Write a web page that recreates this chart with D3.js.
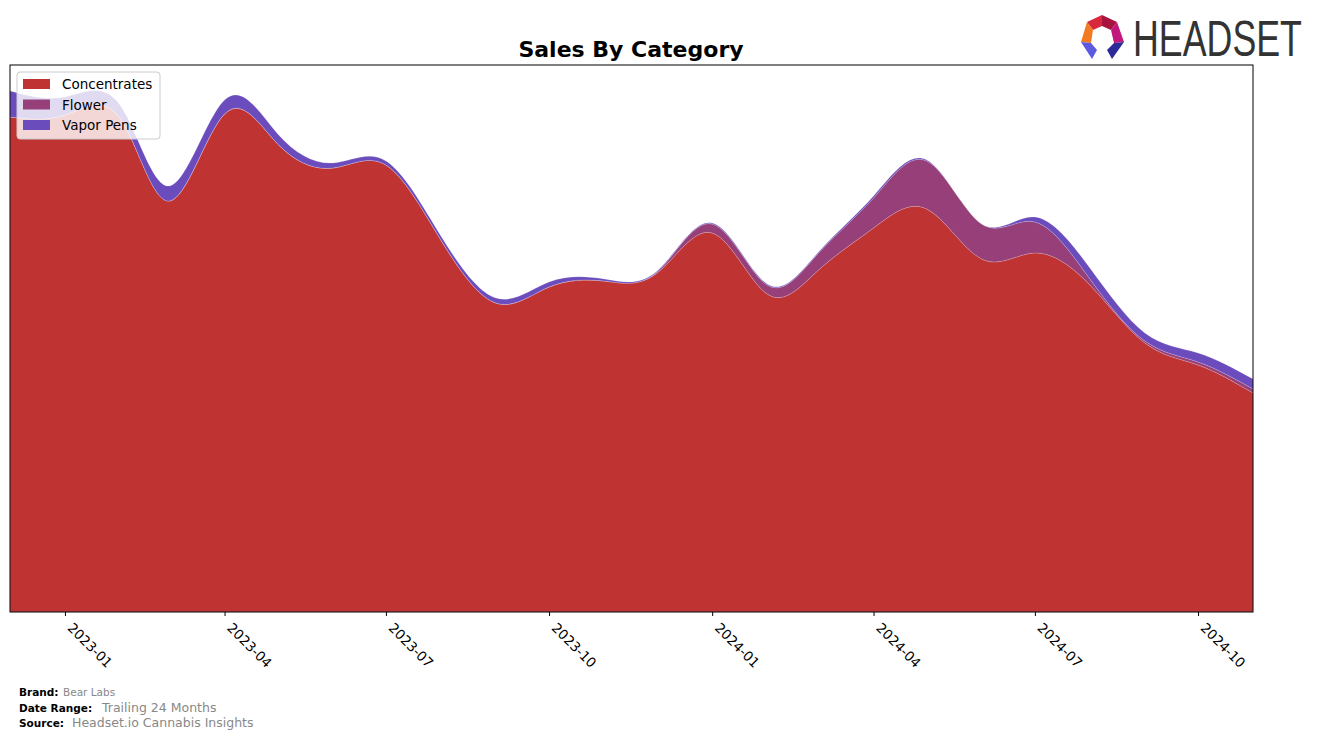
<!DOCTYPE html>
<html>
<head>
<meta charset="utf-8">
<script src="https://cdn.jsdelivr.net/npm/d3@7"></script>
<style>
  html, body { margin: 0; padding: 0; background: #fff; }
  svg { display: block; font-family: "DejaVu Sans", sans-serif; }
</style>
</head>
<body>
<svg id="chart" width="1317" height="739"></svg>
<script>
// ---- data (monthly, arbitrary sales units) ----
const months = ["2022-12","2023-01","2023-02","2023-03","2023-04","2023-05","2023-06","2023-07","2023-08","2023-09","2023-10","2023-11","2023-12","2024-01","2024-02","2024-03","2024-04","2024-05","2024-06","2024-07","2024-08","2024-09","2024-10","2024-11"];
const concentrates = [495,497,494,411,498,468,444,447,372,309,325,331,339,379,318,342,384,403,353,359,327,269,247,219];
const flower       = [0,0,0,0,0,0,0,0,0,0,0,0,1,9,9,17,30,48,35,31,6,2,3,4];
const vaporPens    = [26,18,13,15,14,10,5,4,4,5,5,2,1,1,1,1,2,1,0,5,11,8,9,10];
const seriesNames  = ["Concentrates","Flower","Vapor Pens"];
const seriesColors = ["#c03333","#963f78","#6a4cbd"];
const xTickLabels  = ["2023-01","2023-04","2023-07","2023-10","2024-01","2024-04","2024-07","2024-10"];
const yMax = 547;

const parse = d3.timeParse("%Y-%m");
const rows = months.map((m, i) => ({
  date: parse(m),
  "Concentrates": concentrates[i],
  "Flower": flower[i],
  "Vapor Pens": vaporPens[i]
}));

const svg = d3.select("#chart");
const L = 10, R = 1253, T = 65, B = 612;

const x = d3.scaleTime().domain([rows[0].date, rows[rows.length-1].date]).range([L, R]);
const y = d3.scaleLinear().domain([0, yMax]).range([B, T]);

const stack = d3.stack().keys(seriesNames);
const layers = stack(rows);

const area = d3.area()
  .curve(d3.curveNatural)
  .x(d => x(d.data.date))
  .y0(d => y(d[0]))
  .y1(d => y(d[1]));

svg.append("defs").append("clipPath").attr("id", "plotclip")
  .append("rect").attr("x", L).attr("y", T).attr("width", R - L).attr("height", B - T);

const g = svg.append("g").attr("clip-path", "url(#plotclip)");
g.selectAll("path.layer").data(layers).enter().append("path")
  .attr("class", "layer")
  .attr("d", area)
  .attr("fill", (d, i) => seriesColors[i])
  .attr("stroke", "rgba(255,255,255,0.35)")
  .attr("stroke-width", 0.5);

// frame
svg.append("rect").attr("x", L).attr("y", T).attr("width", R - L).attr("height", B - T)
  .attr("fill", "none").attr("stroke", "#000").attr("stroke-width", 1);

// x axis
const tickDates = xTickLabels.map(parse);
const xAxis = d3.axisBottom(x).tickValues(tickDates).tickFormat((d, i) => xTickLabels[i]).tickSize(4);
const ax = svg.append("g").attr("transform", `translate(0,${B})`).call(xAxis);
ax.select(".domain").remove();
ax.selectAll(".tick line").attr("stroke", "#000");
ax.selectAll(".tick text")
  .attr("x", 0).attr("y", 0).attr("dy", "0.71em")
  .attr("transform", "translate(8,10) rotate(45)")
  .attr("text-anchor", "start")
  .attr("fill", "#000")
  .style("font-size", "13.5px")
  .style("font-family", "DejaVu Sans");

// title
svg.append("text").attr("x", 631).attr("y", 57).attr("text-anchor", "middle")
  .style("font-size", "22px").style("font-weight", "bold").attr("fill", "#000")
  .text("Sales By Category");

// legend
const lg = svg.append("g");
lg.append("rect").attr("x", 17).attr("y", 72).attr("width", 143).attr("height", 67)
  .attr("rx", 3).attr("fill", "rgba(255,255,255,0.8)").attr("stroke", "#cccccc").attr("stroke-width", 1);
seriesNames.forEach((name, i) => {
  const yy = 79 + i * 20.5;
  lg.append("rect").attr("x", 23).attr("y", yy).attr("width", 27).attr("height", 10)
    .attr("fill", seriesColors[i]);
  lg.append("text").attr("x", 62).attr("y", yy + 10).style("font-size", "13.5px").attr("fill", "#000").text(name);
});

// footer
const foot = [
  {label: "Brand:", value: "Bear Labs", y: 696, vx: 63, vs: 10.5},
  {label: "Date Range:", value: "Trailing 24 Months", y: 712, vx: 102, vs: 12.5},
  {label: "Source:", value: "Headset.io Cannabis Insights", y: 727, vx: 72, vs: 12.5}
];
foot.forEach(f => {
  svg.append("text").attr("x", 19).attr("y", f.y).style("font-size", "10.5px").style("font-weight", "bold").attr("fill", "#000").text(f.label);
  svg.append("text").attr("x", f.vx).attr("y", f.y).style("font-size", f.vs + "px").attr("fill", "#888").text(f.value);
});

// logo
const logo = svg.append("g");
const segs = [
  {pts: [[1087,22],[1102,15],[1102,26],[1093,30]], c: "#d8283c"},
  {pts: [[1102,15],[1117,22],[1111,30],[1102,26]], c: "#a8133f"},
  {pts: [[1087,22],[1093,30],[1091,43],[1081,42]], c: "#f27a22"},
  {pts: [[1117,22],[1124,42],[1114,43],[1111,30]], c: "#c2187e"},
  {pts: [[1081,42],[1091,43],[1097,50],[1092,59]], c: "#5b5ae0"},
  {pts: [[1124,42],[1112,59],[1107,50],[1114,43]], c: "#2c2a98"}
];
segs.forEach(s => logo.append("polygon").attr("points", s.pts.map(p => p.join(",")).join(" ")).attr("fill", s.c));
const logoText = logo.append("text").attr("x", 0).attr("y", 0)
  .style("font-family", "'Liberation Sans Narrow', 'Liberation Sans', sans-serif")
  .style("font-size", "49px").attr("fill", "#333").text("HEADSET");
const natW = logoText.node().getComputedTextLength() || 169;
logoText.attr("transform", `translate(1133,56) scale(${169 / natW},1)`);
</script>
</body>
</html>
